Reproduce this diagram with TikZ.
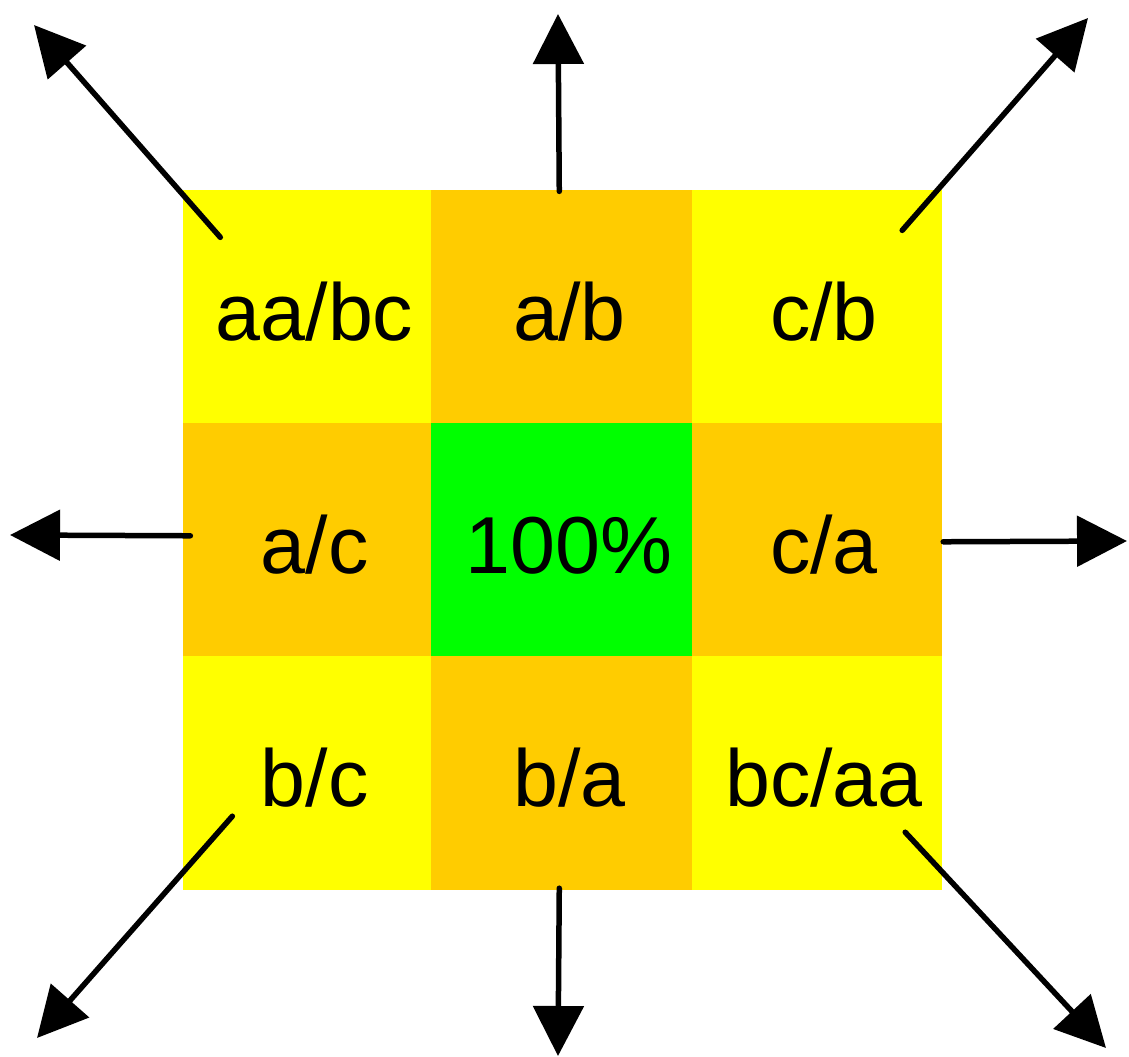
\documentclass[tikz,border=0pt]{standalone}
\usepackage{fontspec}
\setmainfont{Liberation Sans}
\usetikzlibrary{matrix,arrows.meta}
\definecolor{cellyellow}{RGB}{255,255,0}
\definecolor{cellorange}{RGB}{255,204,0}
\definecolor{cellgreen}{RGB}{0,255,0}
\tikzset{
  cell/.style={inner sep=0pt, outer sep=0pt, minimum width=4.97cm, minimum height=4.66cm, text height=1.35cm, text depth=0pt, execute at begin node={\hspace*{0.28cm}}, font=\fontsize{46}{50}\selectfont},
  yel/.style={cell, fill=cellyellow, draw=cellyellow},
  org/.style={cell, fill=cellorange, draw=cellorange},
  grn/.style={cell, fill=cellgreen, draw=cellgreen},
  mid/.style={minimum width=5.22cm},
  outarrow/.style={line width=0.11cm, line cap=round, -{Triangle[length=1cm, width=1cm]}}
}

\begin{document}
\begin{tikzpicture}[x=0.02cm, y=-0.02cm]
  \useasboundingbox (0,0) rectangle (1129,1057);
  \matrix (grid) [matrix of nodes, inner sep=0pt, outer sep=0pt, anchor=north west, row sep=-\pgflinewidth, column sep=-\pgflinewidth] at (183,190) {
    \node[yel] (aabc) {aa/bc}; &
    \node[org, mid] (ab) {a/b}; &
    \node[yel] (cb) {c/b}; \\
    \node[org] (ac) {a/c}; &
    \node[grn, mid] (full) {100\%}; &
    \node[org] (ca) {c/a}; \\
    \node[yel] (bc) {b/c}; &
    \node[org, mid] (ba) {b/a}; &
    \node[yel] (bcaa) {bc/aa}; \\
  };
  \coordinate (nwfoot) at ([shift={(37,47)}]aabc.north west);
  \coordinate (nfoot) at ([shift={(-3,1)}]ab.north);
  \coordinate (nefoot) at ([shift={(-39,40)}]cb.north east);
  \coordinate (wfoot) at ([shift={(7,-4)}]ac.west);
  \coordinate (efoot) at ([shift={(2,2)}]ca.east);
  \coordinate (swfoot) at ([shift={(49,-73)}]bc.south west);
  \coordinate (sfoot) at ([shift={(-3,-1)}]ba.south);
  \coordinate (sefoot) at ([shift={(-36,-57)}]bcaa.south east);
  \coordinate (nwtip) at (34,25);
  \coordinate (ntip) at (558,14);
  \coordinate (netip) at (1088,18);
  \coordinate (wtip) at (10,535);
  \coordinate (etip) at (1127,541);
  \coordinate (swtip) at (37,1038);
  \coordinate (stip) at (558,1056);
  \coordinate (setip) at (1106,1048);
  \draw[outarrow] (nwfoot) -- (nwtip);
  \draw[outarrow] (nfoot) -- (ntip);
  \draw[outarrow] (nefoot) -- (netip);
  \draw[outarrow] (wfoot) -- (wtip);
  \draw[outarrow] (efoot) -- (etip);
  \draw[outarrow] (swfoot) -- (swtip);
  \draw[outarrow] (sfoot) -- (stip);
  \draw[outarrow] (sefoot) -- (setip);
\end{tikzpicture}
\end{document}
